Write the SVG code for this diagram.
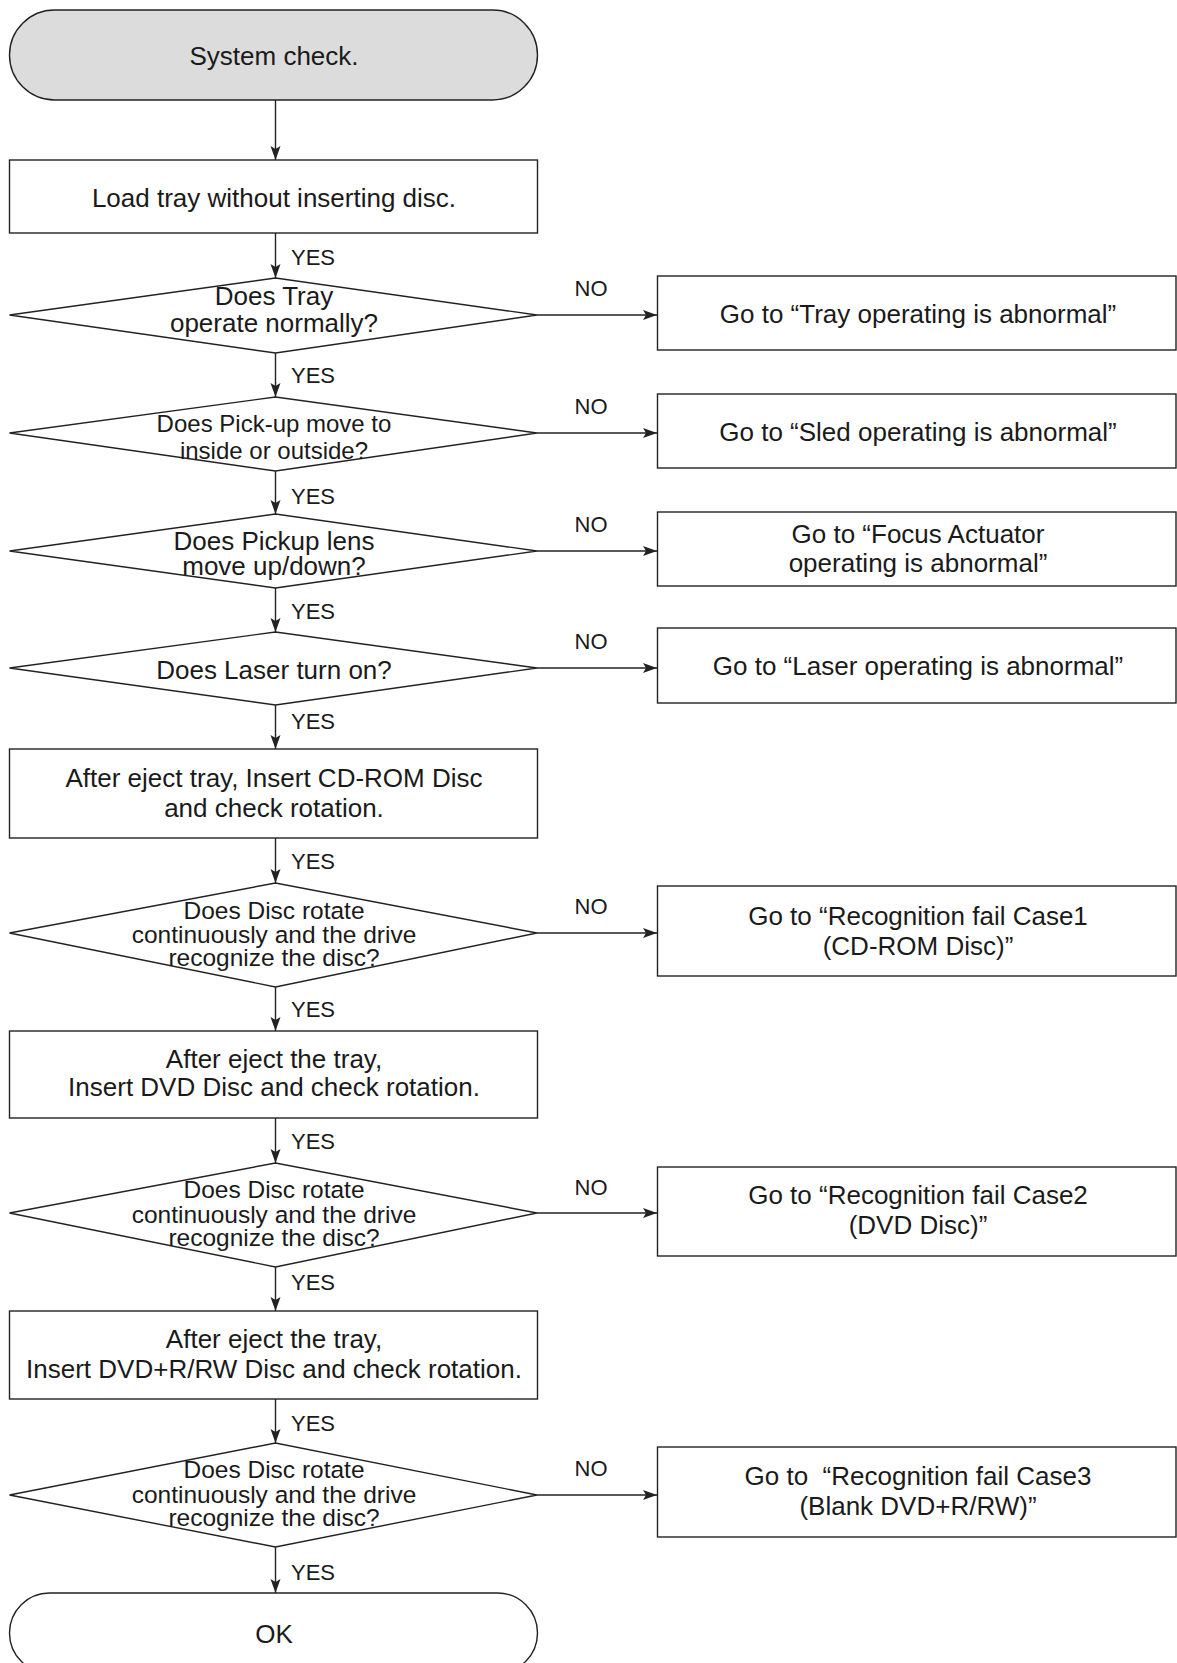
<svg xmlns="http://www.w3.org/2000/svg" width="1177" height="1663" viewBox="0 0 1177 1663">
<defs>
<style>
.s{fill:#fff;stroke:#222;stroke-width:1.4}
.term{fill:#dcdcdc;stroke:#222;stroke-width:1.4}
.c{fill:none;stroke:#222;stroke-width:1.4}
text{font-family:"Liberation Sans",Arial,Helvetica,sans-serif;fill:#1a1a1a}
.t{font-size:26px;text-anchor:middle}
.t3{font-size:24.5px;text-anchor:middle}
.t2{font-size:24px;text-anchor:middle}
.lbl{font-size:22px}
.no{font-size:22px;text-anchor:middle}
</style>
<marker id="ah" markerUnits="userSpaceOnUse" markerWidth="16" markerHeight="12" refX="14" refY="5.5" orient="auto">
<path d="M0,0.5 L14,5.5 L0,10.5 L3,5.5 z" fill="#222"/>
</marker>
</defs>
<rect width="1177" height="1663" fill="#fff"/>

<g id="connectors">
<line class="c" x1="275.5" y1="100" x2="275.5" y2="160" marker-end="url(#ah)"/>
<line class="c" x1="275.5" y1="233" x2="275.5" y2="278" marker-end="url(#ah)"/>
<line class="c" x1="275.5" y1="353" x2="275.5" y2="397" marker-end="url(#ah)"/>
<line class="c" x1="275.5" y1="471" x2="275.5" y2="514" marker-end="url(#ah)"/>
<line class="c" x1="275.5" y1="588" x2="275.5" y2="632" marker-end="url(#ah)"/>
<line class="c" x1="275.5" y1="705" x2="275.5" y2="749" marker-end="url(#ah)"/>
<line class="c" x1="275.5" y1="838" x2="275.5" y2="883" marker-end="url(#ah)"/>
<line class="c" x1="275.5" y1="987" x2="275.5" y2="1031" marker-end="url(#ah)"/>
<line class="c" x1="275.5" y1="1118" x2="275.5" y2="1163" marker-end="url(#ah)"/>
<line class="c" x1="275.5" y1="1267" x2="275.5" y2="1311" marker-end="url(#ah)"/>
<line class="c" x1="275.5" y1="1399" x2="275.5" y2="1443" marker-end="url(#ah)"/>
<line class="c" x1="275.5" y1="1547" x2="275.5" y2="1593" marker-end="url(#ah)"/>
<line class="c" x1="537" y1="315" x2="657" y2="315" marker-end="url(#ah)"/>
<line class="c" x1="537" y1="433" x2="657" y2="433" marker-end="url(#ah)"/>
<line class="c" x1="537" y1="551" x2="657" y2="551" marker-end="url(#ah)"/>
<line class="c" x1="537" y1="668" x2="657" y2="668" marker-end="url(#ah)"/>
<line class="c" x1="537" y1="933" x2="657" y2="933" marker-end="url(#ah)"/>
<line class="c" x1="537" y1="1213" x2="657" y2="1213" marker-end="url(#ah)"/>
<line class="c" x1="537" y1="1495" x2="657" y2="1495" marker-end="url(#ah)"/>
<text class="lbl" x="291" y="265">YES</text>
<text class="lbl" x="291" y="383">YES</text>
<text class="lbl" x="291" y="504">YES</text>
<text class="lbl" x="291" y="619">YES</text>
<text class="lbl" x="291" y="729">YES</text>
<text class="lbl" x="291" y="869">YES</text>
<text class="lbl" x="291" y="1017">YES</text>
<text class="lbl" x="291" y="1149">YES</text>
<text class="lbl" x="291" y="1290">YES</text>
<text class="lbl" x="291" y="1431">YES</text>
<text class="lbl" x="291" y="1580">YES</text>
<text class="no" x="591" y="296">NO</text>
<text class="no" x="591" y="414">NO</text>
<text class="no" x="591" y="532">NO</text>
<text class="no" x="591" y="649">NO</text>
<text class="no" x="591" y="914">NO</text>
<text class="no" x="591" y="1195">NO</text>
<text class="no" x="591" y="1476">NO</text>
</g>

<g id="start">
<rect class="term" x="9.5" y="10" width="528" height="90" rx="45" ry="45"/>
<text class="t" x="274" y="65">System check.</text>
</g>

<g id="load">
<rect class="s" x="9.5" y="160" width="528" height="73"/>
<text class="t" x="274" y="207">Load tray without inserting disc.</text>
</g>

<g id="d1">
<polygon class="s" points="9.5,315 275.5,278 537,315 275.5,353"/>
<text class="t" x="274" y="305">Does Tray</text>
<text class="t" x="274" y="332">operate normally?</text>
</g>
<g id="r1">
<rect class="s" x="657.5" y="276" width="518.5" height="74"/>
<text class="t" x="918" y="323">Go to “Tray operating is abnormal”</text>
</g>

<g id="d2">
<polygon class="s" points="9.5,433 275.5,397 537,433 275.5,471"/>
<text class="t2" x="274" y="432">Does Pick-up move to</text>
<text class="t2" x="274" y="459">inside or outside?</text>
</g>
<g id="r2">
<rect class="s" x="657.5" y="394" width="518.5" height="74"/>
<text class="t" x="918" y="441">Go to “Sled operating is abnormal”</text>
</g>

<g id="d3">
<polygon class="s" points="9.5,551 275.5,514 537,551 275.5,588"/>
<text class="t" x="274" y="550">Does Pickup lens</text>
<text class="t" x="274" y="575">move up/down?</text>
</g>
<g id="r3">
<rect class="s" x="657.5" y="512" width="518.5" height="74"/>
<text class="t" x="918" y="543">Go to “Focus Actuator</text>
<text class="t" x="918" y="572">operating is abnormal”</text>
</g>

<g id="d4">
<polygon class="s" points="9.5,668 275.5,632 537,668 275.5,705"/>
<text class="t" x="274" y="679">Does Laser turn on?</text>
</g>
<g id="r4">
<rect class="s" x="657.5" y="628" width="518.5" height="75"/>
<text class="t" x="918" y="675">Go to “Laser operating is abnormal”</text>
</g>

<g id="cdrom">
<rect class="s" x="9.5" y="749" width="528" height="89"/>
<text class="t" x="274" y="787">After eject tray, Insert CD-ROM Disc</text>
<text class="t" x="274" y="817">and check rotation.</text>
</g>

<g id="d5">
<polygon class="s" points="9.5,933 275.5,883 537,933 275.5,987"/>
<text class="t3" x="274" y="919">Does Disc rotate</text>
<text class="t3" x="274" y="943">continuously and the drive</text>
<text class="t3" x="274" y="966">recognize the disc?</text>
</g>
<g id="r5">
<rect class="s" x="657.5" y="886" width="518.5" height="90"/>
<text class="t" x="918" y="925">Go to “Recognition fail Case1</text>
<text class="t" x="918" y="955">(CD-ROM Disc)”</text>
</g>

<g id="dvd">
<rect class="s" x="9.5" y="1031" width="528" height="87"/>
<text class="t" x="274" y="1068">After eject the tray,</text>
<text class="t" x="274" y="1096">Insert DVD Disc and check rotation.</text>
</g>

<g id="d6">
<polygon class="s" points="9.5,1213 275.5,1163 537,1213 275.5,1267"/>
<text class="t3" x="274" y="1198">Does Disc rotate</text>
<text class="t3" x="274" y="1223">continuously and the drive</text>
<text class="t3" x="274" y="1246">recognize the disc?</text>
</g>
<g id="r6">
<rect class="s" x="657.5" y="1167" width="518.5" height="89"/>
<text class="t" x="918" y="1204">Go to “Recognition fail Case2</text>
<text class="t" x="918" y="1234">(DVD Disc)”</text>
</g>

<g id="dvdr">
<rect class="s" x="9.5" y="1311" width="528" height="88"/>
<text class="t" x="274" y="1348">After eject the tray,</text>
<text class="t" x="274" y="1378">Insert DVD+R/RW Disc and check rotation.</text>
</g>

<g id="d7">
<polygon class="s" points="9.5,1495 275.5,1443 537,1495 275.5,1547"/>
<text class="t3" x="274" y="1478">Does Disc rotate</text>
<text class="t3" x="274" y="1503">continuously and the drive</text>
<text class="t3" x="274" y="1526">recognize the disc?</text>
</g>
<g id="r7">
<rect class="s" x="657.5" y="1447" width="518.5" height="90"/>
<text class="t" x="918" y="1485">Go to&#160; “Recognition fail Case3</text>
<text class="t" x="918" y="1515">(Blank DVD+R/RW)”</text>
</g>

<g id="ok">
<rect class="s" x="9.5" y="1593" width="528" height="80" rx="40" ry="40"/>
<text class="t" x="274" y="1643">OK</text>
</g>
</svg>
